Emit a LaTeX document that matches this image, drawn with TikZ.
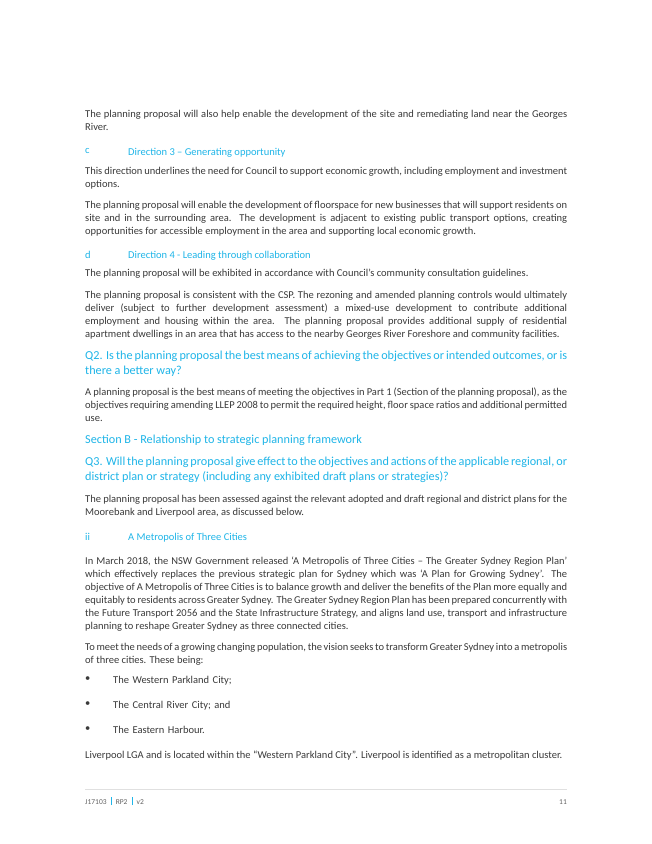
\documentclass[tikz,border=0pt]{standalone}
\usepackage{fontspec}
\setmainfont{Carlito}
\definecolor{cy}{HTML}{1FB5E8}
\definecolor{tx}{HTML}{3A3A3A}
\begin{document}
\begin{tikzpicture}[x=1pt,y=-1pt,
 para/.style={anchor=north west,inner sep=0pt,text width=482pt,align=justify,font=\fontsize{10.5}{13}\selectfont,text=tx},
 head/.style={anchor=north west,inner sep=0pt,font=\fontsize{10.5}{13}\selectfont,text=cy},
 qhead/.style={anchor=north west,inner sep=0pt,text width=482pt,align=justify,font=\fontsize{12.2}{14.5}\selectfont,text=cy},
 foot/.style={anchor=base west,inner sep=0pt,font=\fontsize{7.5}{9}\selectfont,text=tx!80}]
\useasboundingbox[fill=white] (0,0) rectangle (652,844);
\node[para] (p1) at (85,110) {The planning proposal will also help enable the development of the site and remediating land near the Georges\linebreak River.};
\node[head] (hc) at (85,148) {c};
\node[head] (hct) at (128,148) {Direction 3 – Generating opportunity};
\node[para] (p2) at (85,167) {This direction underlines the need for Council to support economic growth, including employment and investment\linebreak options.};
\node[para] (p3) at (85,201) {The planning proposal will enable the development of floorspace for new businesses that will support residents on\linebreak site and in the surrounding area. The development is adjacent to existing public transport options, creating\linebreak opportunities for accessible employment in the area and supporting local economic growth.};
\node[head] (hd) at (85,251) {d};
\node[head] (hdt) at (128,251) {Direction 4 - Leading through collaboration};
\node[para] (p4) at (85,269) {The planning proposal will be exhibited in accordance with Council’s community consultation guidelines.};
\node[para] (p5) at (85,291) {The planning proposal is consistent with the CSP. The rezoning and amended planning controls would ultimately\linebreak deliver (subject to further development assessment) a mixed-use development to contribute additional\linebreak employment and housing within the area. The planning proposal provides additional supply of residential\linebreak apartment dwellings in an area that has access to the nearby Georges River Foreshore and community facilities.};
\node[qhead] (q2) at (85,351) {Q2. Is the planning proposal the best means of achieving the objectives or intended outcomes, or is\linebreak there a better way?};
\node[para] (p6) at (85,388) {A planning proposal is the best means of meeting the objectives in Part 1 (Section of the planning proposal), as the\linebreak objectives requiring amending LLEP 2008 to permit the required height, floor space ratios and additional permitted\linebreak use.};
\node[head,font=\fontsize{12.2}{14.5}\selectfont] (sb) at (85,435) {Section B - Relationship to strategic planning framework};
\node[qhead] (q3) at (85,457) {Q3. Will the planning proposal give effect to the objectives and actions of the applicable regional, or\linebreak district plan or strategy (including any exhibited draft plans or strategies)?};
\node[para] (p7) at (85,495) {The planning proposal has been assessed against the relevant adopted and draft regional and district plans for the\linebreak Moorebank and Liverpool area, as discussed below.};
\node[head] (hii) at (85,533) {ii};
\node[head] (hiit) at (128,533) {A Metropolis of Three Cities};
\node[para] (p8) at (85,557) {In March 2018, the NSW Government released ‘A Metropolis of Three Cities – The Greater Sydney Region Plan’\linebreak which effectively replaces the previous strategic plan for Sydney which was ‘A Plan for Growing Sydney’. The\linebreak objective of A Metropolis of Three Cities is to balance growth and deliver the benefits of the Plan more equally and\linebreak equitably to residents across Greater Sydney. The Greater Sydney Region Plan has been prepared concurrently with\linebreak the Future Transport 2056 and the State Infrastructure Strategy, and aligns land use, transport and infrastructure\linebreak planning to reshape Greater Sydney as three connected cities.};
\node[para] (p9) at (85,643) {To meet the needs of a growing changing population, the vision seeks to transform Greater Sydney into a metropolis\linebreak of three cities. These being:};
\foreach \yy/\tt [count=\i] in {676/The Western Parkland City;,701/The Central River City; and,726/The Eastern Harbour.}{
 \node[para,text width=10pt] (b\i) at (85,\yy) {•};
 \node[para,text width=400pt,align=left] (bt\i) at (113,\yy) {\tt};
}
\node[para] (p10) at (85,751) {Liverpool LGA and is located within the “Western Parkland City”. Liverpool is identified as a metropolitan cluster.};
\coordinate (r1) at (85,789);
\coordinate (r2) at (567,789);
\draw[black!12,line width=0.6pt] (r1) -- (r2);
\node[foot] (f1) at (85,804) {J17103\hspace{4pt}{\color{cy}\rule[-1pt]{1.2pt}{8pt}}\hspace{4pt}RP2\hspace{4pt}{\color{cy}\rule[-1pt]{1.2pt}{8pt}}\hspace{4pt}v2};
\node[foot,anchor=base east] (f2) at (567,804) {11};
\end{tikzpicture}
\end{document}
